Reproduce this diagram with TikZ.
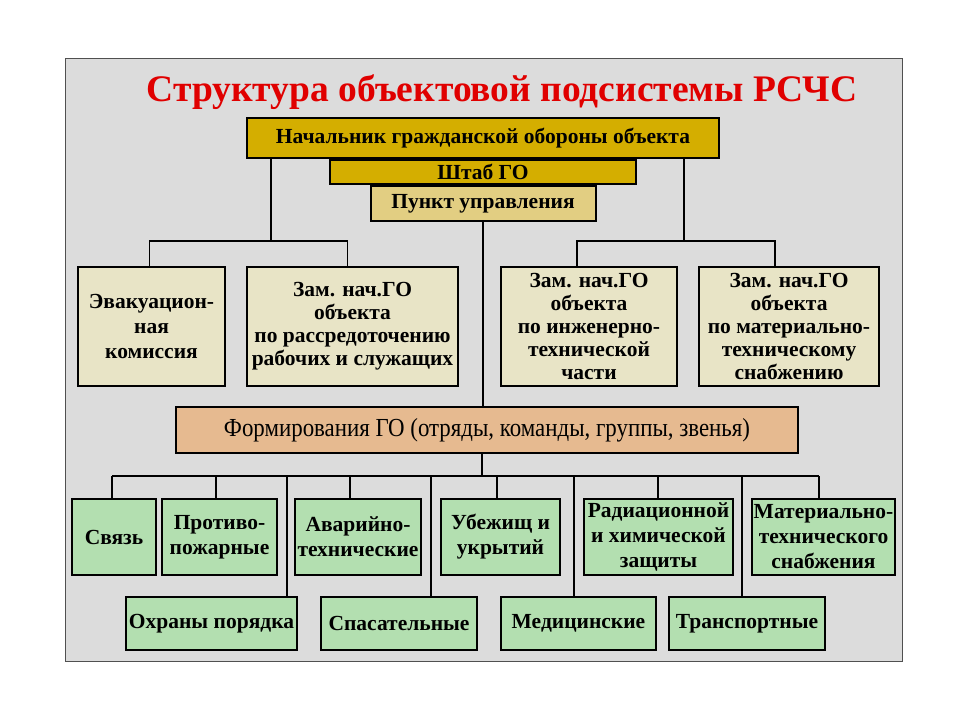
\documentclass[tikz,border=0pt]{standalone}
\usepackage{fontspec}
\setmainfont{Liberation Serif}
\usetikzlibrary{positioning}
\definecolor{panelgray}{HTML}{DCDCDC}
\definecolor{panelline}{HTML}{505050}
\definecolor{titlered}{HTML}{E00000}
\definecolor{goldfill}{HTML}{D4AE00}
\definecolor{khakifill}{HTML}{E2CE82}
\definecolor{beigefill}{HTML}{E8E4C6}
\definecolor{tanfill}{HTML}{E6BA90}
\definecolor{greenfill}{HTML}{B3DFB0}
\tikzset{
    box/.style = {
        draw,
        shape=rectangle,
        line width=2pt,
        inner sep=0pt,
        align=center,
        font=\bfseries\fontsize{21.5}{25}\selectfont
    },
    chiefbox/.style = {box, fill=goldfill},
    punktbox/.style = {box, fill=khakifill},
    depbox/.style = {box, fill=beigefill, font=\bfseries\fontsize{21.5}{23}\selectfont},
    formbox/.style = {box, fill=tanfill, font=\fontsize{26}{30}\selectfont},
    unitbox/.style = {box, fill=greenfill},
    link/.style = {draw, line width=1.5pt},
}

\begin{document}
\begin{tikzpicture}[x=1pt, y=-1pt]
        \path[use as bounding box, fill=white] (0,0) rectangle (960,720);
        \path[draw=panelline, fill=panelgray, line width=1pt] (65,58) rectangle (902,661);

        \node[text=titlered, font=\bfseries\fontsize{37.5}{42}\selectfont] (title) at (502,92) {Структура объектовой подсистемы РСЧС};

        % top of the structure
        \node[chiefbox, minimum width=472pt, minimum height=40pt] (chief) at (483,138) {Начальник гражданской обороны объекта};
        \node[chiefbox, below=0pt of chief, minimum width=306pt, minimum height=24pt] (staff) {Штаб ГО};
        \node[punktbox, below=0pt of staff, minimum width=225pt, minimum height=35pt] (punkt) {Пункт управления};

        % deputies
        \node[depbox, font=\bfseries\fontsize{21.5}{25}\selectfont, minimum width=147pt, minimum height=119pt] (evak) at (151.5,326.5) {Эвакуацион-\\ная\\комиссия};
        \node[depbox, minimum width=211pt, minimum height=119pt] (rassr) at (352.5,326.5) {Зам. нач.ГО\\объекта\\по рассредоточению\\рабочих и служащих};
        \node[depbox, minimum width=176pt, minimum height=119pt] (inzh) at (589,326.5) {Зам. нач.ГО\\объекта\\по инженерно-\\технической\\части};
        \node[depbox, minimum width=180pt, minimum height=119pt] (mat) at (789,326.5) {Зам. нач.ГО\\объекта\\по материально-\\техническому\\снабжению};

        \node[formbox, minimum width=622pt, minimum height=46pt] (form) at (487,430) {\scalebox{0.88}[1]{Формирования ГО (отряды, команды, группы, звенья)}};

        % formations, upper row
        \node[unitbox, minimum width=84pt, minimum height=76pt] (svyaz) at (114,537) {Связь};
        \node[unitbox, minimum width=115pt, minimum height=76pt] (protiv) at (219.5,537) {Противо-\\пожарные};
        \node[unitbox, minimum width=126pt, minimum height=76pt] (avar) at (358,537) {Аварийно-\\технические};
        \node[unitbox, minimum width=119pt, minimum height=76pt] (ubezh) at (500.5,537) {Убежищ и\\укрытий};
        \node[unitbox, minimum width=149pt, minimum height=76pt] (rad) at (658.5,537) {Радиационной\\и химической\\защиты};
        \node[unitbox, minimum width=143pt, minimum height=76pt] (matt) at (823.5,537) {Материально-\\технического\\снабжения};

        % formations, lower row
        \node[unitbox, minimum width=171pt, minimum height=53pt] (ohr) at (211.5,623.5) {Охраны порядка};
        \node[unitbox, minimum width=156pt, minimum height=53pt] (spas) at (399,623.5) {Спасательные};
        \node[unitbox, minimum width=155pt, minimum height=53pt] (med) at (578.5,623.5) {Медицинские};
        \node[unitbox, minimum width=156pt, minimum height=53pt] (trans) at (747,623.5) {Транспортные};

        % branches from the chief
        \coordinate (lbus) at (271,241);
        \coordinate (rbus) at (684,241);
        \path[link] (chief.south -| lbus) -- (lbus);
        \path[link] ([xshift=-2pt]evak.north) |- (lbus) -| ([xshift=-5pt]rassr.north);
        \path[link] (chief.south -| rbus) -- (rbus);
        \path[link] ([xshift=-12pt]inzh.north) |- (rbus) -| ([xshift=-14pt]mat.north);

        \path[link] (punkt.south) -- (punkt.south |- form.north);

        % bus to the formations
        \coordinate (fbus) at (482,476);
        \path[link] (form.south -| fbus) -- (fbus);
        \foreach \unit/\xx in {svyaz/112, protiv/216, ohr/287, avar/350, spas/431, ubezh/497, med/574, rad/658, trans/742, matt/819}
            \coordinate (d\unit) at (\xx,476);
        \path[link] (dsvyaz) -- (dmatt);
        \foreach \unit in {svyaz, protiv, ohr, avar, spas, ubezh, med, rad, trans, matt}
            \path[link] (d\unit) -- (\unit.north -| d\unit);

    \end{tikzpicture}
\end{document}
